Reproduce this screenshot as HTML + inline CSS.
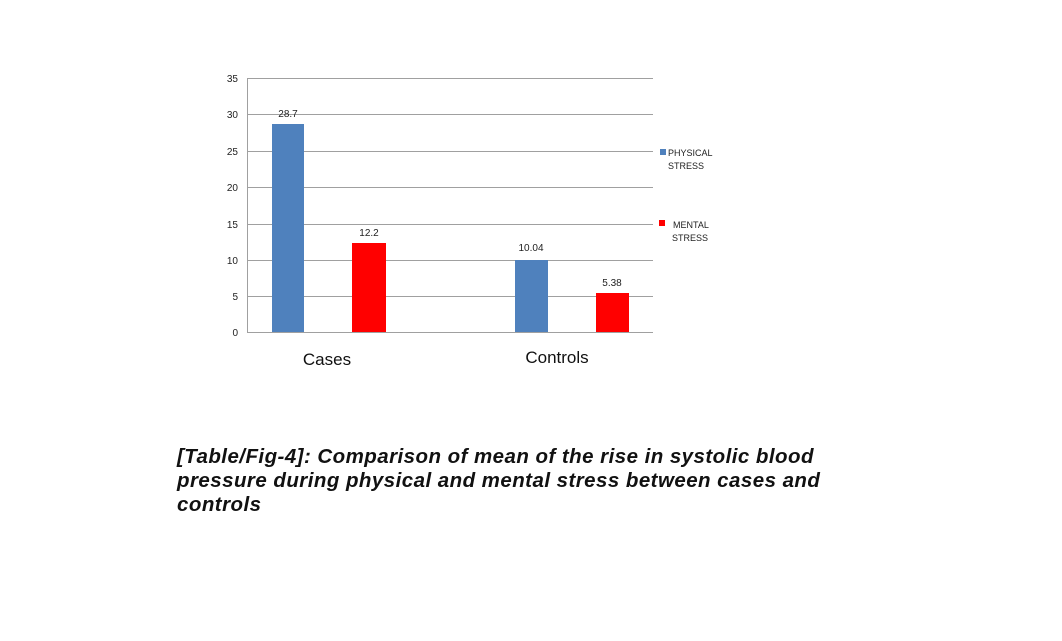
<!DOCTYPE html>
<html><head><style>
body{margin:0;background:#fff;width:1062px;height:641px;overflow:hidden;position:relative}
.cap{position:absolute;left:177px;top:445px;font:italic bold 20.5px "Liberation Sans",sans-serif;letter-spacing:0.45px;line-height:24px;color:#111;width:760px;white-space:nowrap}
</style></head><body>
<svg width="1062" height="641" style="position:absolute;left:0;top:0" font-family="Liberation Sans, sans-serif">
<g stroke="#a0a0a0" stroke-width="1">
<line x1="247" y1="78.5" x2="653" y2="78.5"/>
<line x1="247" y1="114.5" x2="653" y2="114.5"/>
<line x1="247" y1="151.5" x2="653" y2="151.5"/>
<line x1="247" y1="187.5" x2="653" y2="187.5"/>
<line x1="247" y1="224.5" x2="653" y2="224.5"/>
<line x1="247" y1="260.5" x2="653" y2="260.5"/>
<line x1="247" y1="296.5" x2="653" y2="296.5"/>
<line x1="247" y1="332.5" x2="653" y2="332.5"/>
<line x1="247.5" y1="78" x2="247.5" y2="333"/>
</g>
<g font-size="10" fill="#222" text-anchor="end">
<text x="238" y="82">35</text><text x="238" y="118">30</text><text x="238" y="155">25</text>
<text x="238" y="191">20</text><text x="238" y="228">15</text><text x="238" y="264">10</text>
<text x="238" y="300">5</text><text x="238" y="336">0</text>
</g>
<rect x="272" y="124" width="32" height="208" fill="#4f81bd"/>
<rect x="352" y="243" width="34" height="89" fill="#ff0000"/>
<rect x="515" y="260" width="33" height="72" fill="#4f81bd"/>
<rect x="596" y="293" width="33" height="39" fill="#ff0000"/>
<g font-size="10" fill="#222" text-anchor="middle">
<text x="288" y="117">28.7</text><text x="369" y="236">12.2</text>
<text x="531" y="251">10.04</text><text x="612" y="286">5.38</text>
</g>
<text x="327" y="365" font-size="17" text-anchor="middle" fill="#111">Cases</text>
<text x="557" y="363" font-size="17" text-anchor="middle" fill="#111">Controls</text>
<rect x="660" y="149" width="6" height="6" fill="#4f81bd"/>
<rect x="659" y="220" width="6" height="6" fill="#ff0000"/>
<g font-size="9" fill="#222">
<text x="668" y="156">PHYSICAL</text><text x="668" y="169">STRESS</text>
<text x="673" y="228">MENTAL</text><text x="672" y="241">STRESS</text>
</g>
</svg>
<div class="cap">[Table/Fig-4]: Comparison of mean of the rise in systolic blood<br>pressure during physical and mental stress between cases and<br>controls</div>
</body></html>
